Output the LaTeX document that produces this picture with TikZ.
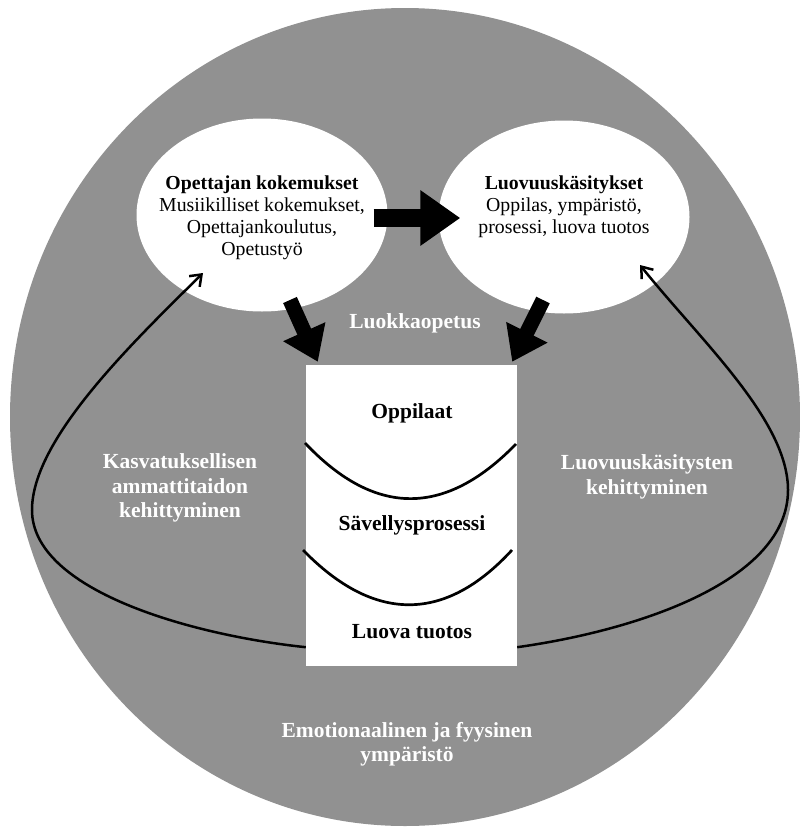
\documentclass[tikz,border=0pt]{standalone}
\usepackage{fontspec}
\setmainfont{Liberation Serif}
\usetikzlibrary{shapes.geometric,arrows.meta}

\definecolor{Env}{HTML}{919191}

\begin{document}
\begin{tikzpicture}[x=1pt, y=-1pt,
  bigtxt/.style={font=\bfseries\fontsize{21.5}{24.5}\selectfont, align=center, inner sep=0},
  blobtxt/.style={font=\fontsize{19.8}{22}\selectfont, align=center, inner sep=0},
  blob/.style={ellipse, fill=white, minimum width=251pt, minimum height=193pt, inner sep=0},
  fatarrow/.style={line width=18pt, -{Triangle[length=40pt,width=53pt]}},
  downarrow/.style={line width=15pt, -{Triangle[length=33pt,width=44pt]}},
  backarrow/.style={line width=2.5pt, -{Straight Barb[length=10pt,width=15pt]}}
]
\useasboundingbox (0,0) rectangle (800,827);

  %%%%%%%%%% Environment %%%%%%%%%%
  \fill [Env] (405,417) ellipse [x radius=395, y radius=409];

  %%%%%%%%%% Ellipses and class box %%%%%%%%%%
  \node [blob] (lk) at (262,215) {};
  \node [blob] (rk) at (564,217) {};
  \node [fill=white, minimum width=211pt, minimum height=301pt, inner sep=0] (box) at (411.5,515.5) {};

  \node [blobtxt] (lktxt) at (262,218) {\textbf{Opettajan kokemukset}\\Musiikilliset kokemukset,\\Opettajankoulutus,\\Opetustyö};
  \node [blobtxt] (rktxt) at (564,207) {\textbf{Luovuuskäsitykset}\\Oppilas, ympäristö,\\prosessi, luova tuotos};

  %%%%%%%%%% Inside the box %%%%%%%%%%
  \node [bigtxt] (opp) at (412,413) {Oppilaat};
  \node [bigtxt] (sav) at (412,525) {Sävellysprosessi};
  \node [bigtxt] (tuo) at (412,632) {Luova tuotos};
  \draw [line width=2.7pt] (305,443) .. controls (375,517) and (445,517) .. (516,444);
  \draw [line width=2.7pt] (303,550) .. controls (374,623) and (445,623) .. (512,550);

  %%%%%%%%%% Block arrows %%%%%%%%%%
  \draw [fatarrow] ([shift={(-14,3)}]lk.east) -- ([shift={(22,1)}]rk.west);
  \draw [downarrow] ([shift={(28,85)}]lk.center) -- ([shift={(12,-3)}]box.north west);
  \draw [downarrow] ([shift={(-21,83)}]rk.center) -- ([shift={(-5,-3)}]box.north east);

  %%%%%%%%%% Development loops %%%%%%%%%%
  \draw [backarrow] ([shift={(0,-19)}]box.south west) .. controls (190,635) and (32,590) .. (32,510)
    .. controls (32,440) and (130,345) .. ([shift={(-59,58)}]lk.center);
  \draw [backarrow] ([shift={(0,-19)}]box.south east) .. controls (640,630) and (788,580) .. (788,490)
    .. controls (788,420) and (700,340) .. ([shift={(76,48)}]rk.center);

  %%%%%%%%%% White labels %%%%%%%%%%
  \node [bigtxt, text=white] (luokka) at (415,323) {Luokkaopetus};
  \node [bigtxt, text=white] (kasv) at (180,488) {Kasvatuksellisen\\ammattitaidon\\kehittyminen};
  \node [bigtxt, text=white] (luov) at (647,477) {Luovuuskäsitysten\\kehittyminen};
  \node [bigtxt, text=white] (emo) at (407,744) {Emotionaalinen ja fyysinen\\ympäristö};

\end{tikzpicture}
\end{document}
